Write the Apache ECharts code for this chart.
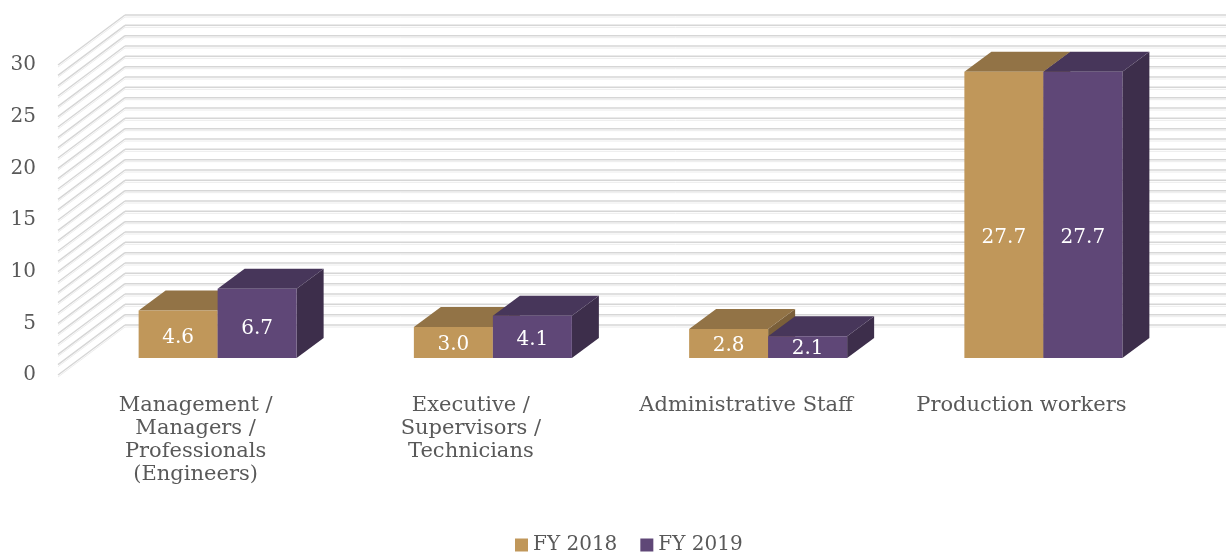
<!DOCTYPE html>
<html>
<head>
<meta charset="utf-8">
<script src="https://cdn.jsdelivr.net/npm/echarts@6/dist/echarts.min.js"></script>
<style>html,body{margin:0;padding:0;background:#fff;}#chart{width:1226px;height:553px;}</style>
</head>
<body>
<div id="chart"></div>
<script>
const categories = [
  "Management /\nManagers /\nProfessionals\n(Engineers)",
  "Executive /\nSupervisors /\nTechnicians",
  "Administrative Staff",
  "Production workers"
];
const seriesNames = ["FY 2018", "FY 2019"];
const fy2018 = [4.6, 3.0, 2.8, 27.7];
const fy2019 = [6.7, 4.1, 2.1, 27.7];
const yMin = 0, yMax = 30, yInterval = 5, gridStep = 1;

const gridValues = [];
for (let v = yMin; v <= yMax; v += gridStep) gridValues.push(v);

const FONT = '"DejaVu Serif", "Liberation Serif", serif';
const TXT = '#595959';
const WALL_DX = 67, WALL_DY = -50;
const BAR_OX = 22, BAR_OY = -17, BAR_DX = 27, BAR_DY = -20;

const faceColors = [
  { front: '#C0975A', top: '#927346', side: '#7A5F3A' },
  { front: '#5F4777', top: '#47365A', side: '#3D2E4B' }
];

function wallRender(params, api) {
  const cs = params.coordSys;
  const y = api.coord([0, api.value(1)])[1];
  const x0 = cs.x, xb = cs.x + WALL_DX, yb = y + WALL_DY;
  const xr = cs.x + cs.width + WALL_DX;
  const st = { stroke: '#d6d6d6', lineWidth: 1.5 };
  const st2 = { stroke: '#ececec', lineWidth: 1 };
  return {
    type: 'group',
    children: [
      { type: 'line', shape: { x1: x0, y1: y + 2, x2: xb, y2: yb + 2 }, style: st2 },
      { type: 'line', shape: { x1: xb, y1: yb + 2, x2: xr, y2: yb + 2 }, style: st2 },
      { type: 'line', shape: { x1: x0, y1: y, x2: xb, y2: yb }, style: st },
      { type: 'line', shape: { x1: xb, y1: yb, x2: xr, y2: yb }, style: st }
    ]
  };
}

function barRender(si) {
  return function (params, api) {
    const idx = api.value(0), v = api.value(1);
    const base = api.coord([idx, 0]);
    const topP = api.coord([idx, v]);
    const bandW = api.size([1, 0])[0];
    const barW = bandW * 0.287;
    const xl = base[0] + BAR_OX + (si === 0 ? -barW : 0);
    const yb = base[1] + BAR_OY, yt = topP[1] + BAR_OY;
    const xr = xl + barW;
    const c = faceColors[si];
    const ly = yb - 0.42 * (yb - yt);
    return {
      type: 'group',
      children: [
        { type: 'polygon', shape: { points: [[xr, yt], [xr + BAR_DX, yt + BAR_DY], [xr + BAR_DX, yb + BAR_DY], [xr, yb]] }, style: { fill: c.side } },
        { type: 'polygon', shape: { points: [[xl, yt], [xr, yt], [xr + BAR_DX, yt + BAR_DY], [xl + BAR_DX, yt + BAR_DY]] }, style: { fill: c.top } },
        { type: 'rect', shape: { x: xl, y: yt, width: barW, height: yb - yt }, style: { fill: c.front } },
        { type: 'text', style: { text: v.toFixed(1), x: xl + barW / 2, y: ly, fill: '#ffffff', fontSize: 20, fontFamily: FONT, align: 'center', verticalAlign: 'middle', textAlign: 'center', textVerticalAlign: 'middle' } }
      ]
    };
  };
}

const chart = echarts.init(document.getElementById('chart'));
chart.setOption({
  animation: false,
  color: [faceColors[0].front, faceColors[1].front],
  grid: { left: 58, right: 67, top: 65, bottom: 178 },
  legend: {
    data: seriesNames,
    left: 510, top: 530,
    icon: 'rect', itemWidth: 13, itemHeight: 13, itemGap: 23,
    textStyle: { color: TXT, fontSize: 20, fontFamily: FONT }
  },
  xAxis: {
    type: 'category',
    data: categories,
    axisLine: { show: false }, axisTick: { show: false }, splitLine: { show: false },
    axisLabel: { color: TXT, fontSize: 21, fontFamily: FONT, lineHeight: 23, margin: 19, interval: 0 }
  },
  yAxis: {
    type: 'value', min: yMin, max: yMax, interval: yInterval,
    axisLine: { show: false }, axisTick: { show: false }, splitLine: { show: false },
    axisLabel: { color: TXT, fontSize: 20, fontFamily: FONT, margin: 22 }
  },
  series: [
    { type: 'custom', name: 'wall', silent: true, z: 1, renderItem: wallRender, data: gridValues.map(v => [0, v]), encode: { x: 0, y: 1 } },
    { type: 'custom', name: seriesNames[0], z: 2, itemStyle: { color: faceColors[0].front }, renderItem: barRender(0), data: fy2018.map((v, i) => [i, v]), encode: { x: 0, y: 1 } },
    { type: 'custom', name: seriesNames[1], z: 3, itemStyle: { color: faceColors[1].front }, renderItem: barRender(1), data: fy2019.map((v, i) => [i, v]), encode: { x: 0, y: 1 } }
  ]
});
</script>
</body>
</html>
